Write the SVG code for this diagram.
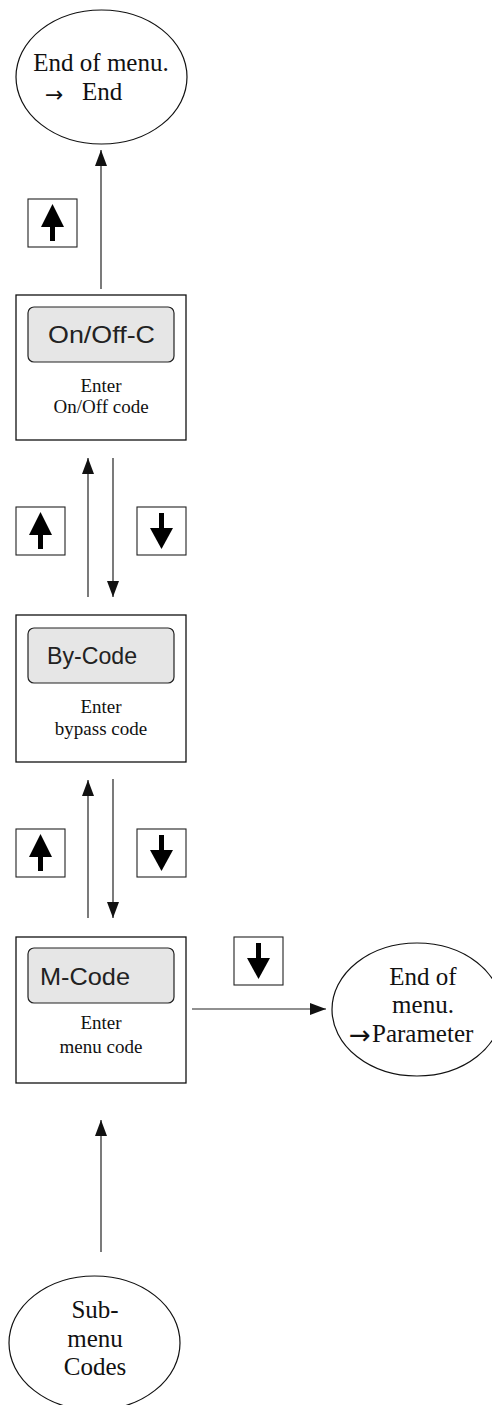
<svg xmlns="http://www.w3.org/2000/svg" xmlns:xlink="http://www.w3.org/1999/xlink" width="492" height="1405" viewBox="0 0 492 1405">
<style>
.frame{fill:#fff;stroke:#111;stroke-width:1.3}
.disp{fill:#e6e6e6;stroke:#222;stroke-width:1.2}
.dtxt{font-family:"Liberation Sans",Arial,sans-serif;font-size:24px;fill:#222}
.s19{font-family:"Liberation Serif","Times New Roman",serif;font-size:19px;fill:#111;text-anchor:middle}
.s25{font-family:"Liberation Serif","Times New Roman",serif;font-size:25px;fill:#111}
.arr{font-family:"DejaVu Sans",sans-serif}
.ell{fill:#fff;stroke:#111;stroke-width:1.2}
.conn{fill:none;stroke:#222;stroke-width:1.2;marker-end:url(#ah)}
.key{fill:#fff;stroke:#222;stroke-width:1.1}
</style>
<defs>
<marker id="ah" viewBox="0 0 16 12" refX="16" refY="6" markerWidth="16" markerHeight="12" markerUnits="userSpaceOnUse" orient="auto">
<path d="M0,0 L16,6 L0,12 z" fill="#111"/>
</marker>
<g id="keyUp">
<rect class="key" x="0" y="0" width="49" height="48"/>
<polygon points="24.5,5 36,28 13,28" fill="#000"/>
<rect x="22" y="27" width="5" height="15" fill="#000"/>
</g>
<g id="keyDown">
<rect class="key" x="0" y="0" width="49" height="48"/>
<polygon points="24.5,42 36,21 13,21" fill="#000"/>
<rect x="22" y="6" width="5" height="16" fill="#000"/>
</g>
</defs>

<g id="connectors">
<path class="conn" d="M101,289 L101,150"/>
<path class="conn" d="M88,597 L88,458"/>
<path class="conn" d="M113,458 L113,597"/>
<path class="conn" d="M88,918 L88,780"/>
<path class="conn" d="M113,779 L113,918"/>
<path class="conn" d="M192,1009 L326,1009"/>
<path class="conn" d="M101,1252 L101,1120"/>
</g>

<g id="keys">
<use xlink:href="#keyUp" x="28" y="199"/>
<use xlink:href="#keyUp" x="16" y="507"/>
<use xlink:href="#keyDown" x="137" y="507"/>
<use xlink:href="#keyUp" x="16" y="829"/>
<use xlink:href="#keyDown" x="137" y="829"/>
<use xlink:href="#keyDown" x="234" y="937"/>
</g>

<g id="end-menu">
<ellipse class="ell" cx="101.5" cy="77" rx="85.5" ry="67"/>
<text class="s25" x="101" y="71" text-anchor="middle">End of menu.</text>
<text class="s25" y="100"><tspan class="arr" x="45" y="102" font-size="22">→</tspan><tspan x="82" y="100">End</tspan></text>
</g>

<g id="onoff">
<rect class="frame" x="16" y="295" width="170" height="145"/>
<rect class="disp" x="28" y="307" width="146" height="55" rx="6"/>
<text class="dtxt" x="48" y="343" textLength="107" lengthAdjust="spacingAndGlyphs">On/Off-C</text>
<text class="s19" x="101" y="392">Enter</text>
<text class="s19" x="101" y="413">On/Off code</text>
</g>

<g id="bycode">
<rect class="frame" x="16" y="615" width="170" height="147"/>
<rect class="disp" x="28" y="628" width="146" height="55" rx="6"/>
<text class="dtxt" x="47" y="664" textLength="90" lengthAdjust="spacingAndGlyphs">By-Code</text>
<text class="s19" x="101" y="713">Enter</text>
<text class="s19" x="101" y="735">bypass code</text>
</g>

<g id="mcode">
<rect class="frame" x="16" y="937" width="170" height="146"/>
<rect class="disp" x="28" y="948" width="146" height="55" rx="6"/>
<text class="dtxt" x="40" y="985" textLength="90" lengthAdjust="spacingAndGlyphs">M-Code</text>
<text class="s19" x="101" y="1029">Enter</text>
<text class="s19" x="101" y="1053">menu code</text>
</g>

<g id="end-param">
<ellipse class="ell" cx="417" cy="1009.5" rx="85" ry="66.5"/>
<text class="s25" x="423" y="985" text-anchor="middle">End of</text>
<text class="s25" x="423" y="1013" text-anchor="middle">menu.</text>
<text class="s25" y="1042"><tspan class="arr" x="349" y="1044" font-size="26">→</tspan><tspan x="372" y="1042">Parameter</tspan></text>
</g>

<g id="submenu">
<ellipse class="ell" cx="94.5" cy="1343" rx="85.5" ry="67"/>
<text class="s25" x="95" y="1318" text-anchor="middle">Sub-</text>
<text class="s25" x="95" y="1347" text-anchor="middle">menu</text>
<text class="s25" x="95" y="1375" text-anchor="middle">Codes</text>
</g>
</svg>
